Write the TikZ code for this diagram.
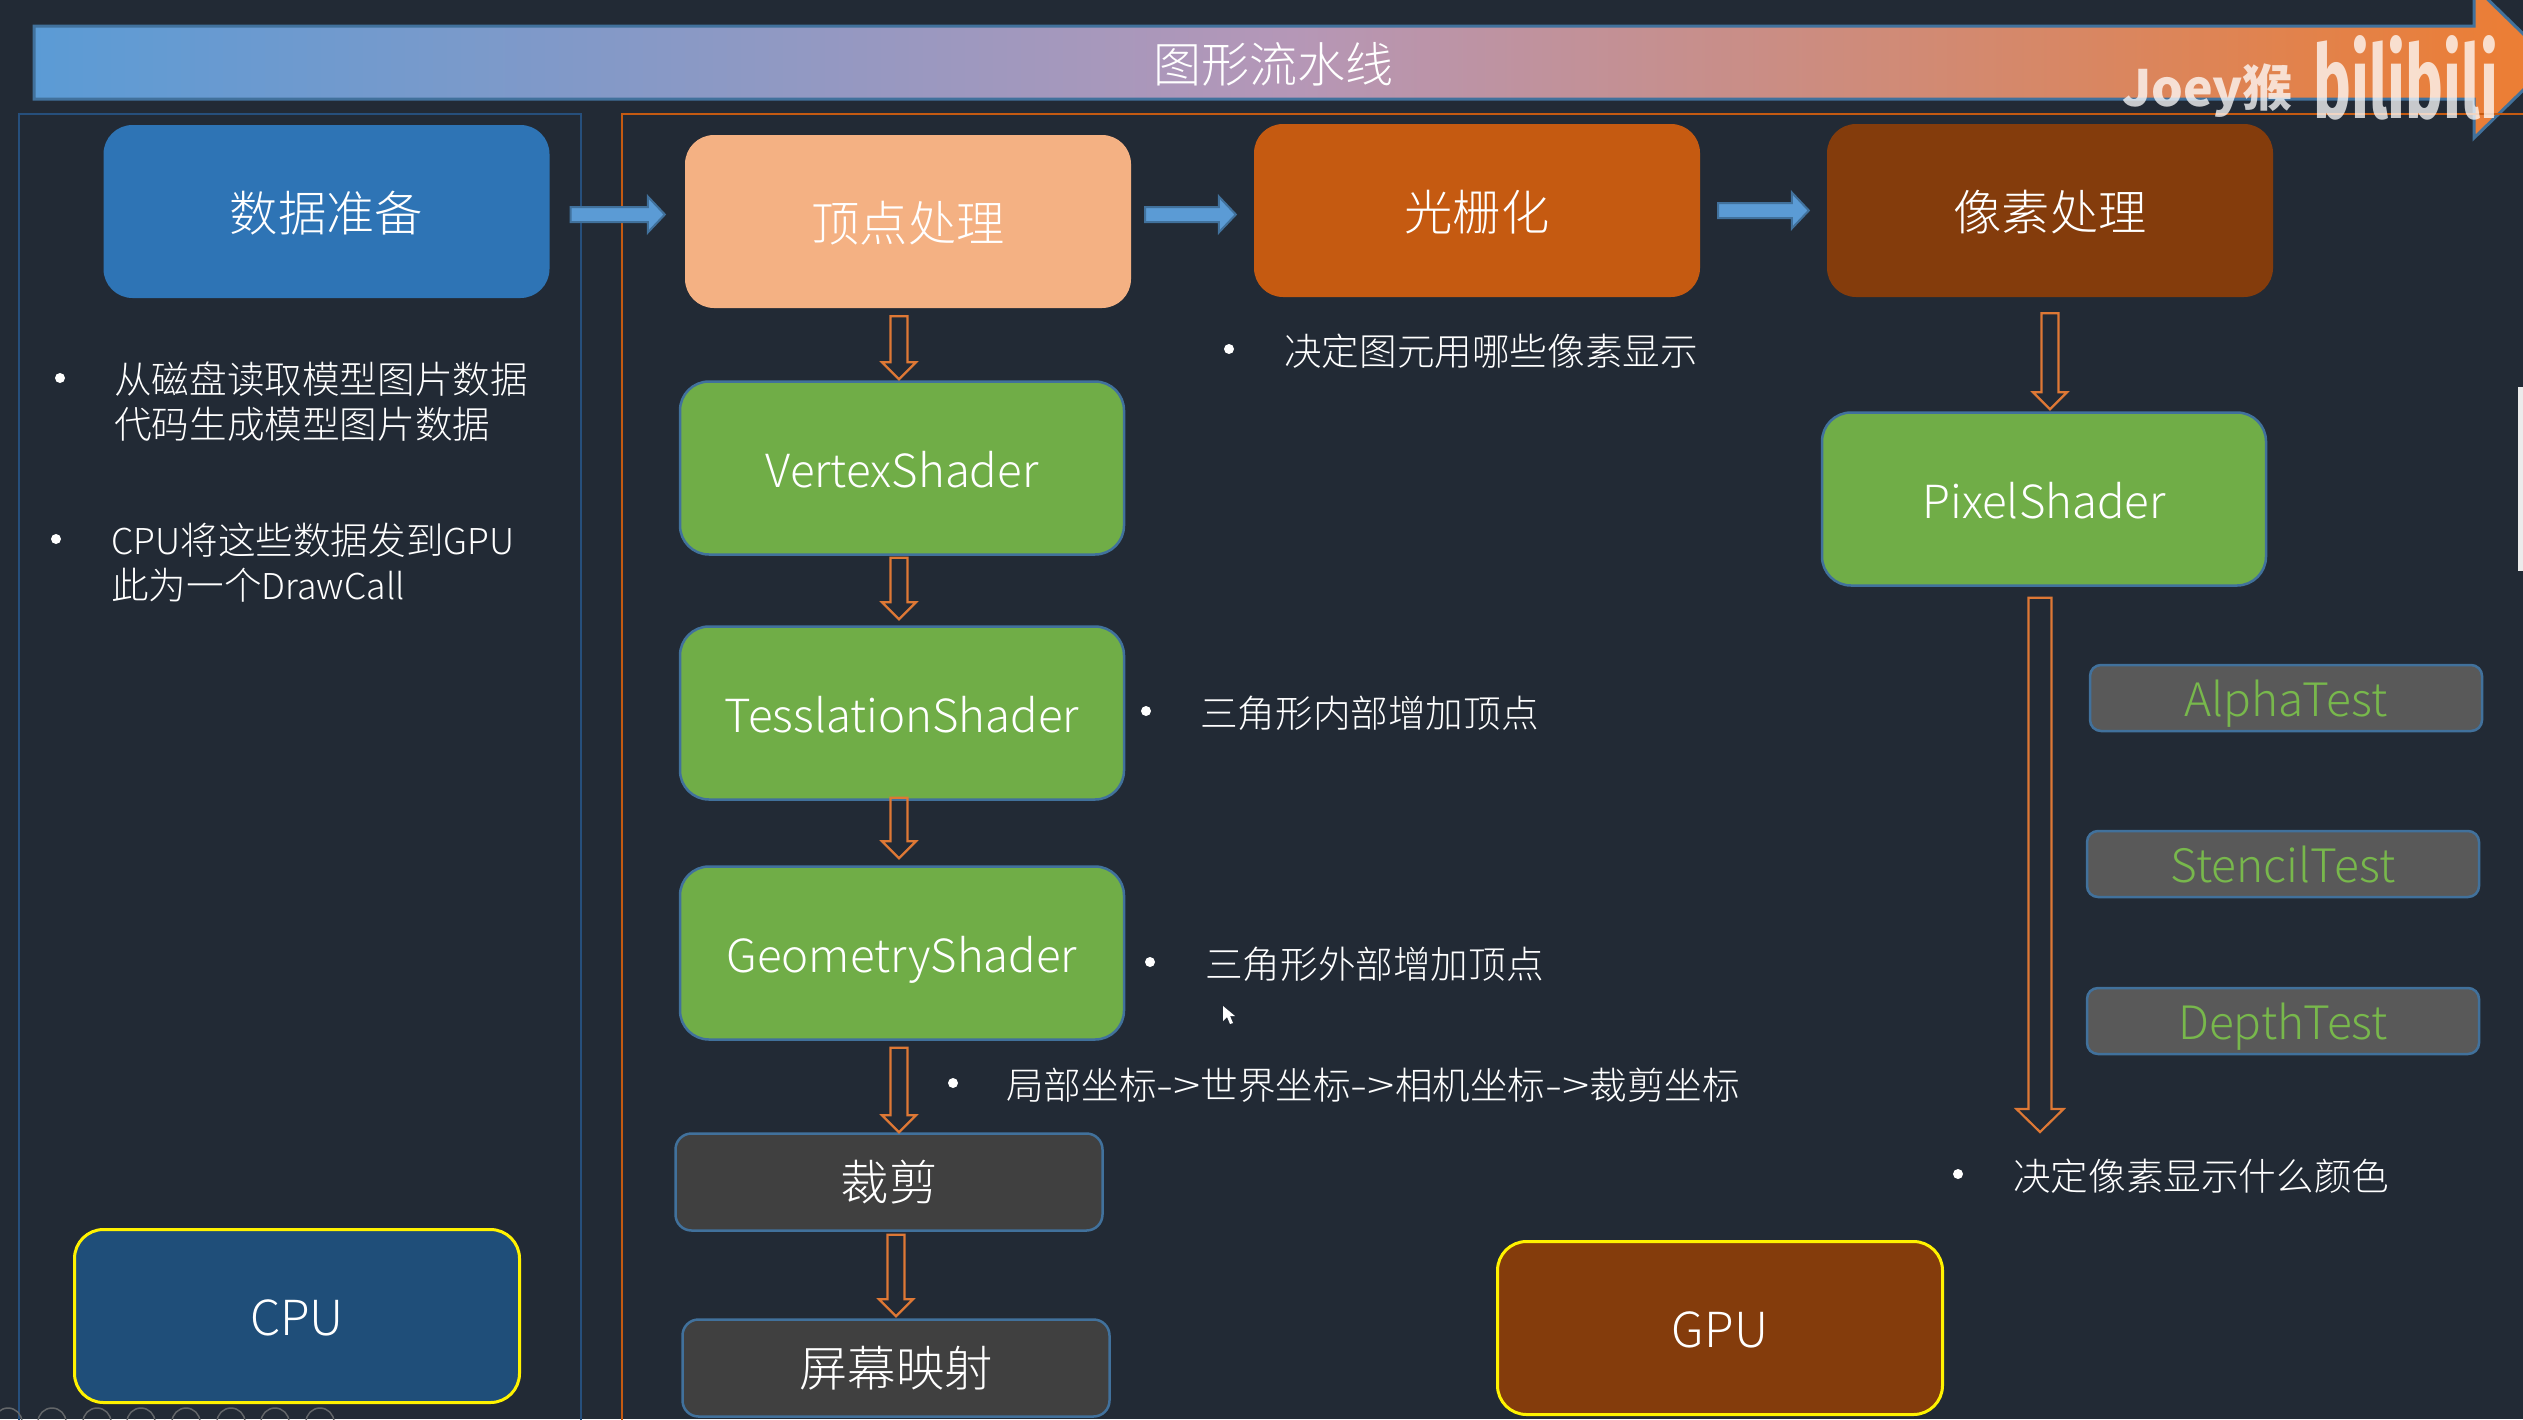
\documentclass[tikz,border=0pt]{standalone}
\usepackage{fontspec}
\usetikzlibrary{calc}
\setmainfont{Noto Sans CJK SC Light}
\newfontfamily\markfont{Noto Sans CJK SC}
\newfontfamily\logofont{Fira Sans}
\newcommand{\lat}[1]{{\fontsize{35.6}{45}\selectfont #1}}
\newcommand{\toarrow}{\makebox[44pt][c]{\scalebox{1.35}[1]{-{>}}}}
\definecolor{bgdark}{HTML}{222A35}
\definecolor{framewire}{HTML}{264F7C}
\definecolor{frameorange}{HTML}{C55A11}
\definecolor{edgeblue}{HTML}{41719C}
\definecolor{prepblue}{HTML}{2E74B5}
\definecolor{vertpeach}{HTML}{F4B183}
\definecolor{pixelbrown}{HTML}{843C0C}
\definecolor{shadergreen}{HTML}{70AD47}
\definecolor{testgreen}{HTML}{78B84C}
\definecolor{cpublue}{HTML}{1F4E79}
\definecolor{hollowline}{HTML}{DE7835}
\definecolor{arrowblue}{HTML}{5B9BD5}
\definecolor{bandmid}{HTML}{B597B7}
\definecolor{bandend}{HTML}{ED7D31}
\tikzset{
	stagebox/.style={rounded corners=29pt,minimum width=446pt,minimum height=173pt,inner sep=0pt,text=white,text height=39pt,text depth=0pt,font=\fontsize{48.3}{58}\selectfont},
	shaderbox/.style={stagebox,fill=shadergreen,draw=edgeblue,line width=2.5pt,minimum width=444pt,text height=38pt,text depth=0pt,font=\fontsize{45.6}{56}\selectfont},
	chipbox/.style={stagebox,draw=yellow,line width=3pt,minimum width=445pt},
	fixedbox/.style={stagebox,rounded corners=16pt,fill=black!75,draw=edgeblue,line width=2.5pt,minimum width=427pt,minimum height=97pt,text height=36pt},
	testbox/.style={rounded corners=11pt,minimum width=392pt,minimum height=66pt,inner sep=0pt,fill=black!65,draw=edgeblue,line width=2.5pt,text=testgreen,text height=36pt,text depth=0pt,font=\fontsize{46}{56}\selectfont},
	noteline/.style={anchor=west,inner sep=0pt,text=white,align=left,font=\fontsize{37.6}{45}\selectfont},
	notedot/.style={circle,fill=white,inner sep=0pt,minimum size=10pt},
	hollow/.style n args={3}{draw=hollowline,line width=2.2pt,line join=miter,
		to path={let \p1=(\tikztostart),\p2=(\tikztotarget) in
			(\x1-#1,\y1) -- (\x1+#1,\y1) -- (\x1+#1,\y2+#3) -- (\x1+#2,\y2+#3) -- (\x1,\y2)
			-- (\x1-#2,\y2+#3) -- (\x1-#1,\y2+#3) -- cycle}},
	blockarrow/.style={draw=edgeblue,fill=arrowblue,line width=2pt,
		to path={let \p1=(\tikztostart),\p2=(\tikztotarget) in
			(\x1,\y1+7.5pt) -- (\x2-17pt,\y1+7.5pt) -- (\x2-17pt,\y1+18pt) -- (\x2,\y1)
			-- (\x2-17pt,\y1-18pt) -- (\x2-17pt,\y1-7.5pt) -- (\x1,\y1-7.5pt) -- cycle}},
}
\begin{document}
\begin{tikzpicture}[x=1pt,y=-1pt]
	\path[use as bounding box,clip] (0,0) rectangle (2523,1419);
	\fill[bgdark] (0,0) rectangle (2523,1419);
	% header band
	\path[draw=edgeblue,line width=3pt,left color=arrowblue,right color=bandend,middle color=bandmid]
		(34,26) -- (2474,26) -- (2474,-14) -- (2552,62) -- (2474,138) -- (2474,99) -- (34,99) -- cycle;
	\node[text=white,font=\fontsize{48}{58}\selectfont] (title) at (1273,64) {图形流水线};
	% frames
	\draw[framewire,line width=2.5pt] (19,1440) -- (19,114) -- (581,114) -- (581,1440);
	\draw[frameorange,line width=2.5pt] (622,1440) -- (622,114) -- (2540,114);
	% top row
	\node[stagebox,fill=prepblue] (prep) at (326.5,211.5) {数据准备};
	\node[stagebox,fill=vertpeach] (vertex) at (908,221.5) {顶点处理};
	\node[stagebox,fill=frameorange] (raster) at (1477,210.5) {光栅化};
	\node[stagebox,fill=pixelbrown] (pixel) at (2050,210.5) {像素处理};
	% shader column
	\node[shaderbox] (vs) at (902,468) {VertexShader};
	\node[shaderbox] (ts) at (902,713) {TesslationShader};
	\node[shaderbox] (gs) at (902,953) {GeometryShader};
	\node[shaderbox] (ps) at (2044,499) {PixelShader};
	\node[fixedbox] (clipbox) at (889,1182) {裁剪};
	\node[fixedbox] (screen) at (896,1368) {屏幕映射};
	% chips
	\node[chipbox,fill=cpublue] (cpu) at (297,1316) {CPU};
	\node[chipbox,fill=pixelbrown] (gpu) at (1720,1328) {GPU};
	% per-fragment tests
	\node[testbox] (alpha) at (2286,698) {AlphaTest};
	\node[testbox] (stencil) at (2283,864) {StencilTest};
	\node[testbox] (depth) at (2283,1021) {DepthTest};
	% arrows
	\draw[blockarrow] ([xshift=21pt,yshift=-3pt]prep.east) to ([xshift=-20pt]vertex.west);
	\draw[blockarrow] ([xshift=14pt,yshift=7pt]vertex.east) to ([xshift=-18pt]raster.west);
	\draw[blockarrow] ([xshift=18pt]raster.east) to ([xshift=-18pt]pixel.west);
	\draw[hollow={8.5pt}{17pt}{17pt}] ([xshift=-9pt,yshift=-8pt]vertex.south) to ([yshift=1pt]vs.north);
	\draw[hollow={8.5pt}{17pt}{17pt}] ([xshift=-3pt,yshift=-2pt]vs.south) to ([yshift=6pt]ts.north);
	\draw[hollow={8.5pt}{17pt}{17pt}] ([xshift=-3pt,yshift=3pt]ts.south) to ([yshift=7pt]gs.north);
	\draw[hollow={8.5pt}{17pt}{17pt}] ([xshift=-3pt,yshift=-7pt]gs.south) to (clipbox.north);
	\draw[hollow={8.5pt}{17pt}{17pt}] ([xshift=7pt,yshift=-3pt]clipbox.south) to ([yshift=2pt]screen.north);
	\draw[hollow={8.5pt}{17pt}{17pt}] ([yshift=-16pt]pixel.south) to ([yshift=2pt]ps.north);
	\draw[hollow={11.5pt}{23.5pt}{23pt}] ([xshift=-4pt,yshift=-11pt]ps.south) to ([xshift=-4pt,yshift=108pt]gpu.north);
	% notes
	\node[notedot] (d1) at (60,378) {};
	\node[noteline] (n1) at (114,402) {从磁盘读取模型图片数据\\代码生成模型图片数据};
	\node[notedot] (d2) at (56,539) {};
	\node[noteline] (n2) at (111,563) {\lat{CPU}将这些数据发到\lat{GPU}\\此为一个\lat{DrawCall}};
	\node[notedot] (d3) at (1229,349) {};
	\node[noteline] (n3) at (1284,351) {决定图元用哪些像素显示};
	\node[notedot] (d4) at (1146,711) {};
	\node[noteline] (n4) at (1200,713) {三角形内部增加顶点};
	\node[notedot] (d5) at (1150,962) {};
	\node[noteline] (n5) at (1205,964) {三角形外部增加顶点};
	\node[notedot] (d6) at (953,1083) {};
	\node[noteline] (n6) at (1006,1085) {局部坐标\toarrow 世界坐标\toarrow 相机坐标\toarrow 裁剪坐标};
	\node[notedot] (d7) at (1958,1174) {};
	\node[noteline] (n7) at (2013,1176) {决定像素显示什么颜色};
	% screen recording leftovers
	\fill[white] (1223,1006) -- (1223,1021) -- (1227,1017) -- (1230,1024) -- (1233,1023) -- (1230,1016) -- (1235,1016) -- cycle;
	\fill[black!8] (2518,387) rectangle (2523,571);
	\foreach \cx in {8,52,97,141,186,231,275,320}
		\draw[gray!70!bgdark,line width=1.5pt] (\cx,1422) circle (14);
	\node[anchor=west,inner sep=0pt,text=white,opacity=.75,font=\markfont\bfseries\fontsize{50}{60}\selectfont] (joey) at (2122,91) {Joey猴};
	\node[anchor=west,inner sep=0pt,text=white,opacity=.75] (logo) at (2313,78) {\resizebox{185pt}{83pt}{\logofont\bfseries bilibili}};
\end{tikzpicture}
\end{document}
